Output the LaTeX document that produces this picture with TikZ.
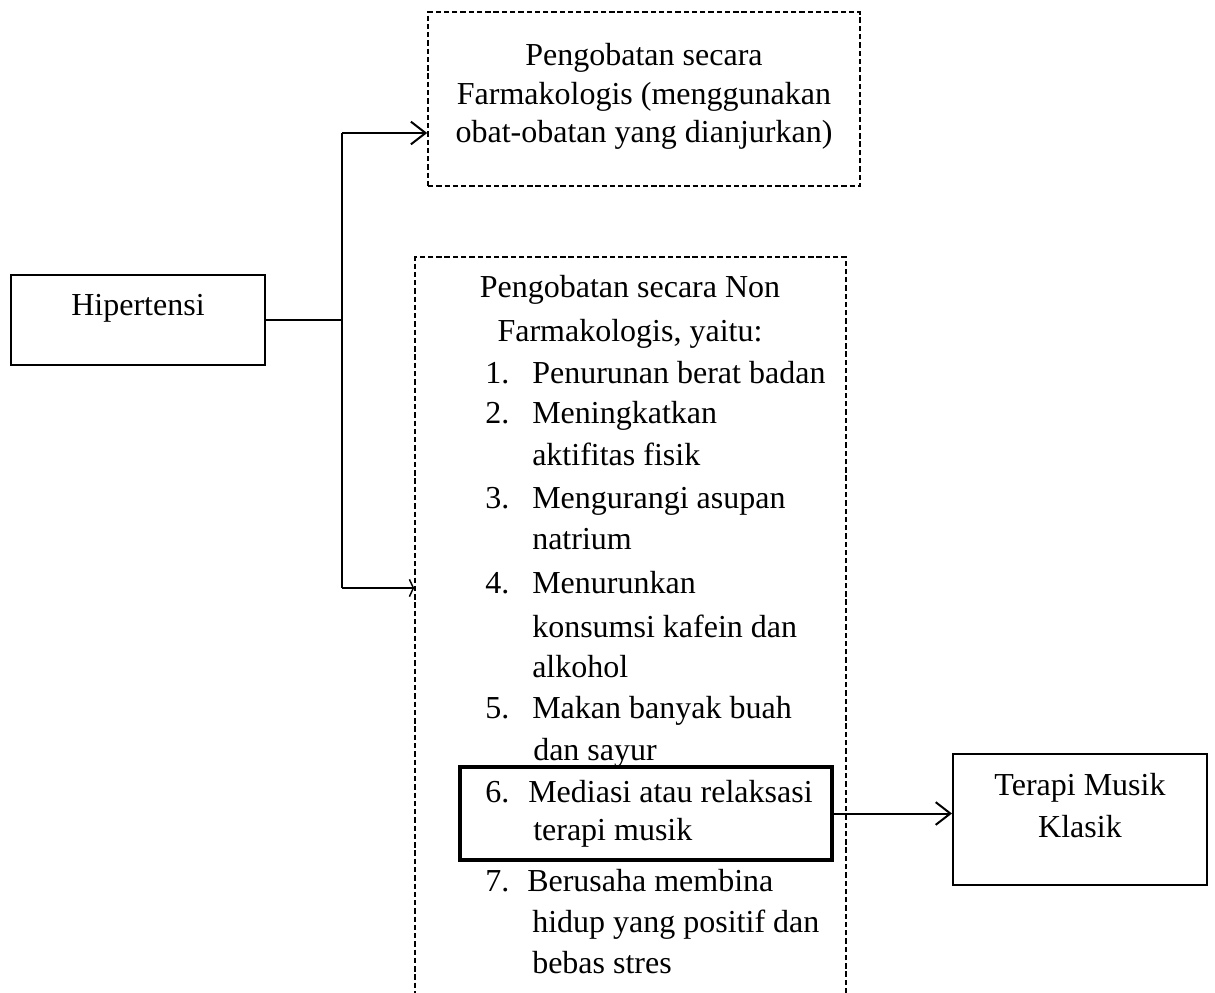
\documentclass[tikz,border=0pt]{standalone}
\usepackage{fontspec}
\setmainfont{Liberation Serif}
\usetikzlibrary{arrows.meta,positioning}

\begin{document}
\begin{tikzpicture}[x=0.75pt,y=-0.75pt,
  font=\fontsize{24}{28.5}\selectfont,
  solidbox/.style={draw,line width=1.5pt,inner sep=0pt},
  dashbox/.style={draw,line width=1.2pt,dash pattern=on 4pt off 2.2pt,inner sep=0pt},
  markbox/.style={draw,line width=3.2pt,inner sep=0pt},
  txt/.style={anchor=base,inner sep=0pt},
  num/.style={anchor=base west,inner sep=0pt},
  link/.style={line width=1.5pt},
  arrow/.style={line width=1.5pt,-{Straight Barb[length=11pt,width=17pt,line width=1.5pt]}}]
\useasboundingbox (0,0) rectangle (1215,993);
% boxes
\node[solidbox,minimum width=190.5pt,minimum height=67.5pt](hip) at (138,320) {};
\node[dashbox,minimum width=324pt,minimum height=130.5pt](farm) at (644,99) {};
\node[dashbox,minimum width=323.25pt,minimum height=570pt](nonfarm) at (630.5,637) {};
\node[markbox,minimum width=279pt,minimum height=69.75pt](item6) at (646,813.5) {};
\node[solidbox,minimum width=190.5pt,minimum height=98.25pt](musik) at (1080,819.5) {};
% texts
\node[txt] at (138,315) {Hipertensi};
\node[txt] at (644,65)  {Pengobatan secara};
\node[txt] at (644,104) {Farmakologis (menggunakan};
\node[txt] at (644,142) {obat-obatan yang dianjurkan)};
\node[txt] at (1080,795) {Terapi Musik};
\node[txt] at (1080,837) {Klasik};
\node[txt] at (630,297) {Pengobatan secara Non};
\node[txt] at (630,341) {Farmakologis, yaitu:};
\node[num] at (485,383) {1.}; \node[num] at (532,383) {Penurunan berat badan};
\node[num] at (485,423) {2.}; \node[num] at (532,423) {Meningkatkan};
                              \node[num] at (532,465) {aktifitas fisik};
\node[num] at (485,508) {3.}; \node[num] at (532,508) {Mengurangi asupan};
                              \node[num] at (532,549) {natrium};
\node[num] at (485,593) {4.}; \node[num] at (532,593) {Menurunkan};
                              \node[num] at (532,637) {konsumsi kafein dan};
                              \node[num] at (532,677) {alkohol};
\node[num] at (485,718) {5.}; \node[num] at (532,718) {Makan banyak buah};
                              \node[num] at (533,760) {dan sayur};
\node[num] at (485,802) {6.}; \node[num] at (528,802) {Mediasi atau relaksasi};
                              \node[num] at (533,840) {terapi musik};
\node[num] at (485,891) {7.}; \node[num] at (527,891) {Berusaha membina};
                              \node[num] at (532,932) {hidup yang positif dan};
                              \node[num] at (532,973) {bebas stres};
% connectors
\coordinate (fork) at (342,320);
\coordinate (up)   at (342,133);
\coordinate (down) at (342,588);
\draw[link](hip.east)--(fork);
\draw[link](up)--(down);
\draw[arrow](up)--(up -| farm.west);
\draw[link,-{Straight Barb[length=3pt,width=13pt,line width=1.1pt]}](down)--(down -| nonfarm.west);
\draw[arrow](item6.east)--(item6.east -| musik.west);
\end{tikzpicture}
\end{document}
